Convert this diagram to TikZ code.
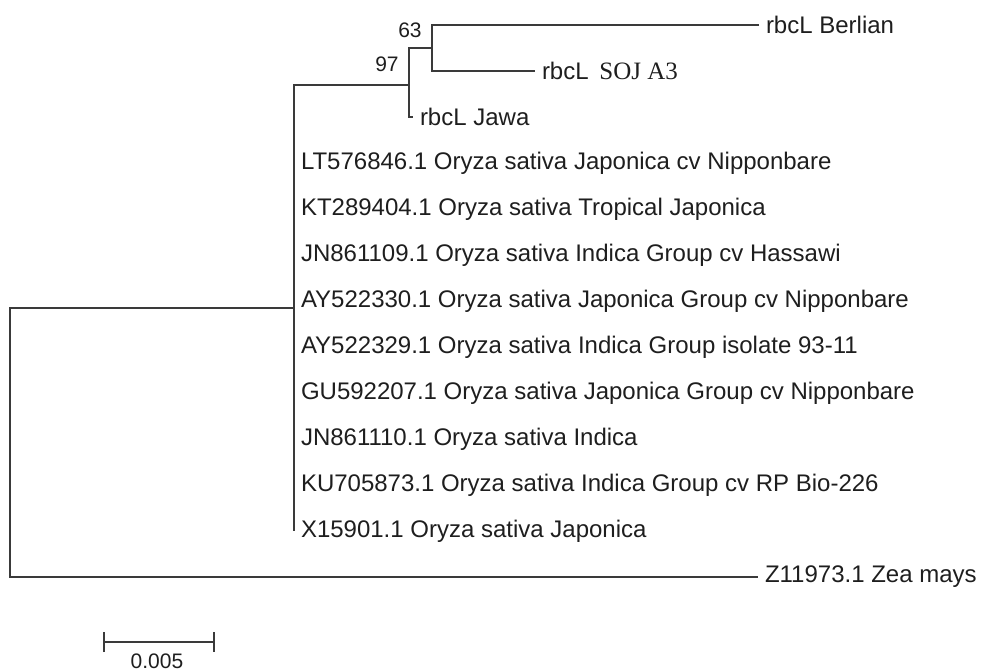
\documentclass[tikz,border=0pt]{standalone}
\usepackage{fontspec}
\setmainfont{Liberation Sans}
\newfontfamily\timesfont{Liberation Serif}
\usetikzlibrary{arrows.meta}
\definecolor{branch}{HTML}{3A3A3A}
\definecolor{ink}{HTML}{1E1E1E}
\tikzset{
  tip/.style={anchor=west, inner ysep=0pt, inner xsep=3pt, text=ink, font=\fontsize{12}{14}\selectfont},
  boot/.style={inner sep=0pt, text=ink, font=\fontsize{10.5}{12}\selectfont}
}
\begin{document}
\begin{tikzpicture}[x=0.5pt, y=-0.5pt, line width=1pt, color=branch]
	\def\dy{46} % row step
	\def\xo{294} % rice clade
	\useasboundingbox (0,0) rectangle (982,671);
	% tips
	\node[tip] (berlian) at (759,25) {rbcL Berlian};
	\node[tip] (soj) at (535,25+\dy) {rbcL\hspace{2pt} {\timesfont\fontsize{12.5}{14}\selectfont SOJ A3}};
	\node[tip] (jawa) at (413,25+2*\dy) {rbcL Jawa};
	\node[tip] (lt) at (\xo,25+3*\dy) {LT576846.1 Oryza sativa Japonica cv Nipponbare};
	\node[tip] (kt) at (\xo,25+4*\dy) {KT289404.1 Oryza sativa Tropical Japonica};
	\node[tip] (jna) at (\xo,25+5*\dy) {JN861109.1 Oryza sativa Indica Group cv Hassawi};
	\node[tip] (aya) at (\xo,25+6*\dy) {AY522330.1 Oryza sativa Japonica Group cv Nipponbare};
	\node[tip] (ayb) at (\xo,25+7*\dy) {AY522329.1 Oryza sativa Indica Group isolate 93-11};
	\node[tip] (gu) at (\xo,25+8*\dy) {GU592207.1 Oryza sativa Japonica Group cv Nipponbare};
	\node[tip] (jnb) at (\xo,25+9*\dy) {JN861110.1 Oryza sativa Indica};
	\node[tip] (ku) at (\xo,25+10*\dy) {KU705873.1 Oryza sativa Indica Group cv RP Bio-226};
	\node[tip] (xo) at (\xo,25+11*\dy) {X15901.1 Oryza sativa Japonica};
	\node[tip] (zea) at (758,25+12*\dy) {Z11973.1 Zea mays};
	% inner nodes
	\coordinate (n63) at (432,48);
	\coordinate (n97) at (409,85);
	\coordinate (n1) at (\xo,308);
	\coordinate (n0) at (10,442);
	\draw (berlian.west) -| (n63) |- (soj.west);
	\draw (n63) -| (n97) |- (jawa.west);
	\draw (n97) -| (n1) |- (xo.west);
	\draw (n1) -| (n0) |- (zea.west);
	\node[boot] (b63) at (410,30) {63};
	\node[boot] (b97) at (387,64) {97};
	% scale bar
	\coordinate (sL) at (103,642);
	\coordinate (sR) at (215,642);
	\draw[{Bar[width=10pt]}-{Bar[width=10pt]}] (sL) -- (sR);
	\node[boot] (scale) at (157,661) {0.005};
\end{tikzpicture}
\end{document}
